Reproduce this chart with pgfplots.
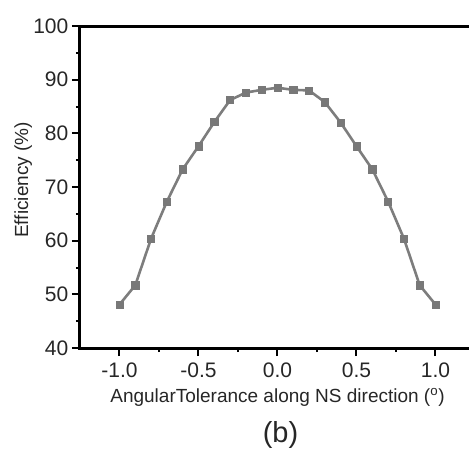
\documentclass[border=0pt]{standalone}
\usepackage{pgfplots}
\pgfplotsset{compat=1.18}
\usepackage{fontspec}
\setmainfont{Liberation Sans}
\definecolor{lineg}{RGB}{125,125,125}
\definecolor{markg}{RGB}{120,120,120}
\begin{document}
\begin{tikzpicture}
\useasboundingbox (-80pt,-103pt) rectangle (389pt,348pt);
\begin{axis}[
  at={(0pt,0pt)}, anchor=south west,
  scale only axis, width=395pt, height=322pt,
  xmin=-1.25, xmax=1.25, ymin=40, ymax=100,
  xtick={-1,-0.5,0,0.5,1},
  ytick={40,50,...,100},
  minor x tick num=1, minor y tick num=1,
  xticklabels={-1.0,-0.5,0.0,0.5,1.0},
  tick align=outside, xtick pos=bottom, ytick pos=left,
  major tick length=8pt, minor tick length=4pt,
  every tick/.style={black, line width=2pt},
  axis line style={black, line width=3pt},
  /pgf/number format/assume math mode=true,
  tick label style={font=\fontsize{21}{24}\selectfont, text=black!85},
  yticklabel style={anchor=east, inner sep=0pt, xshift=-3.5pt},
  xticklabel style={anchor=base, inner sep=0pt, yshift=-21pt},
  label style={font=\fontsize{19}{22}\selectfont, text=black!85},
  xlabel={AngularTolerance along NS direction (\textsuperscript{o})},
  xlabel style={at={(axis description cs:0.5,0)}, anchor=base, yshift=-54pt},
  ylabel={Efficiency (\%)},
  ylabel style={at={(axis description cs:-0.1316,0.522)}, anchor=base, rotate=0},
  clip=false,
]
\addplot[color=lineg, line width=2.6pt, mark=square*, mark size=3.6pt,
  mark options={fill=markg, draw=markg, line width=0.5pt}] coordinates {
(-1.0,48.1) (-0.9,51.7) (-0.8,60.4) (-0.7,67.3) (-0.6,73.3) (-0.5,77.6)
(-0.4,82.1) (-0.3,86.2) (-0.2,87.6) (-0.1,88.1) (0.0,88.5) (0.1,88.1)
(0.2,88.0) (0.3,85.8) (0.4,82.0) (0.5,77.6) (0.6,73.3) (0.7,67.3)
(0.8,60.4) (0.9,51.7) (1.0,48.1)
};
\node[font=\fontsize{29}{32}\selectfont, text=black!85, anchor=base] at (axis description cs:0.5076,-0.295) {(b)};
\end{axis}
\end{tikzpicture}
\end{document}
